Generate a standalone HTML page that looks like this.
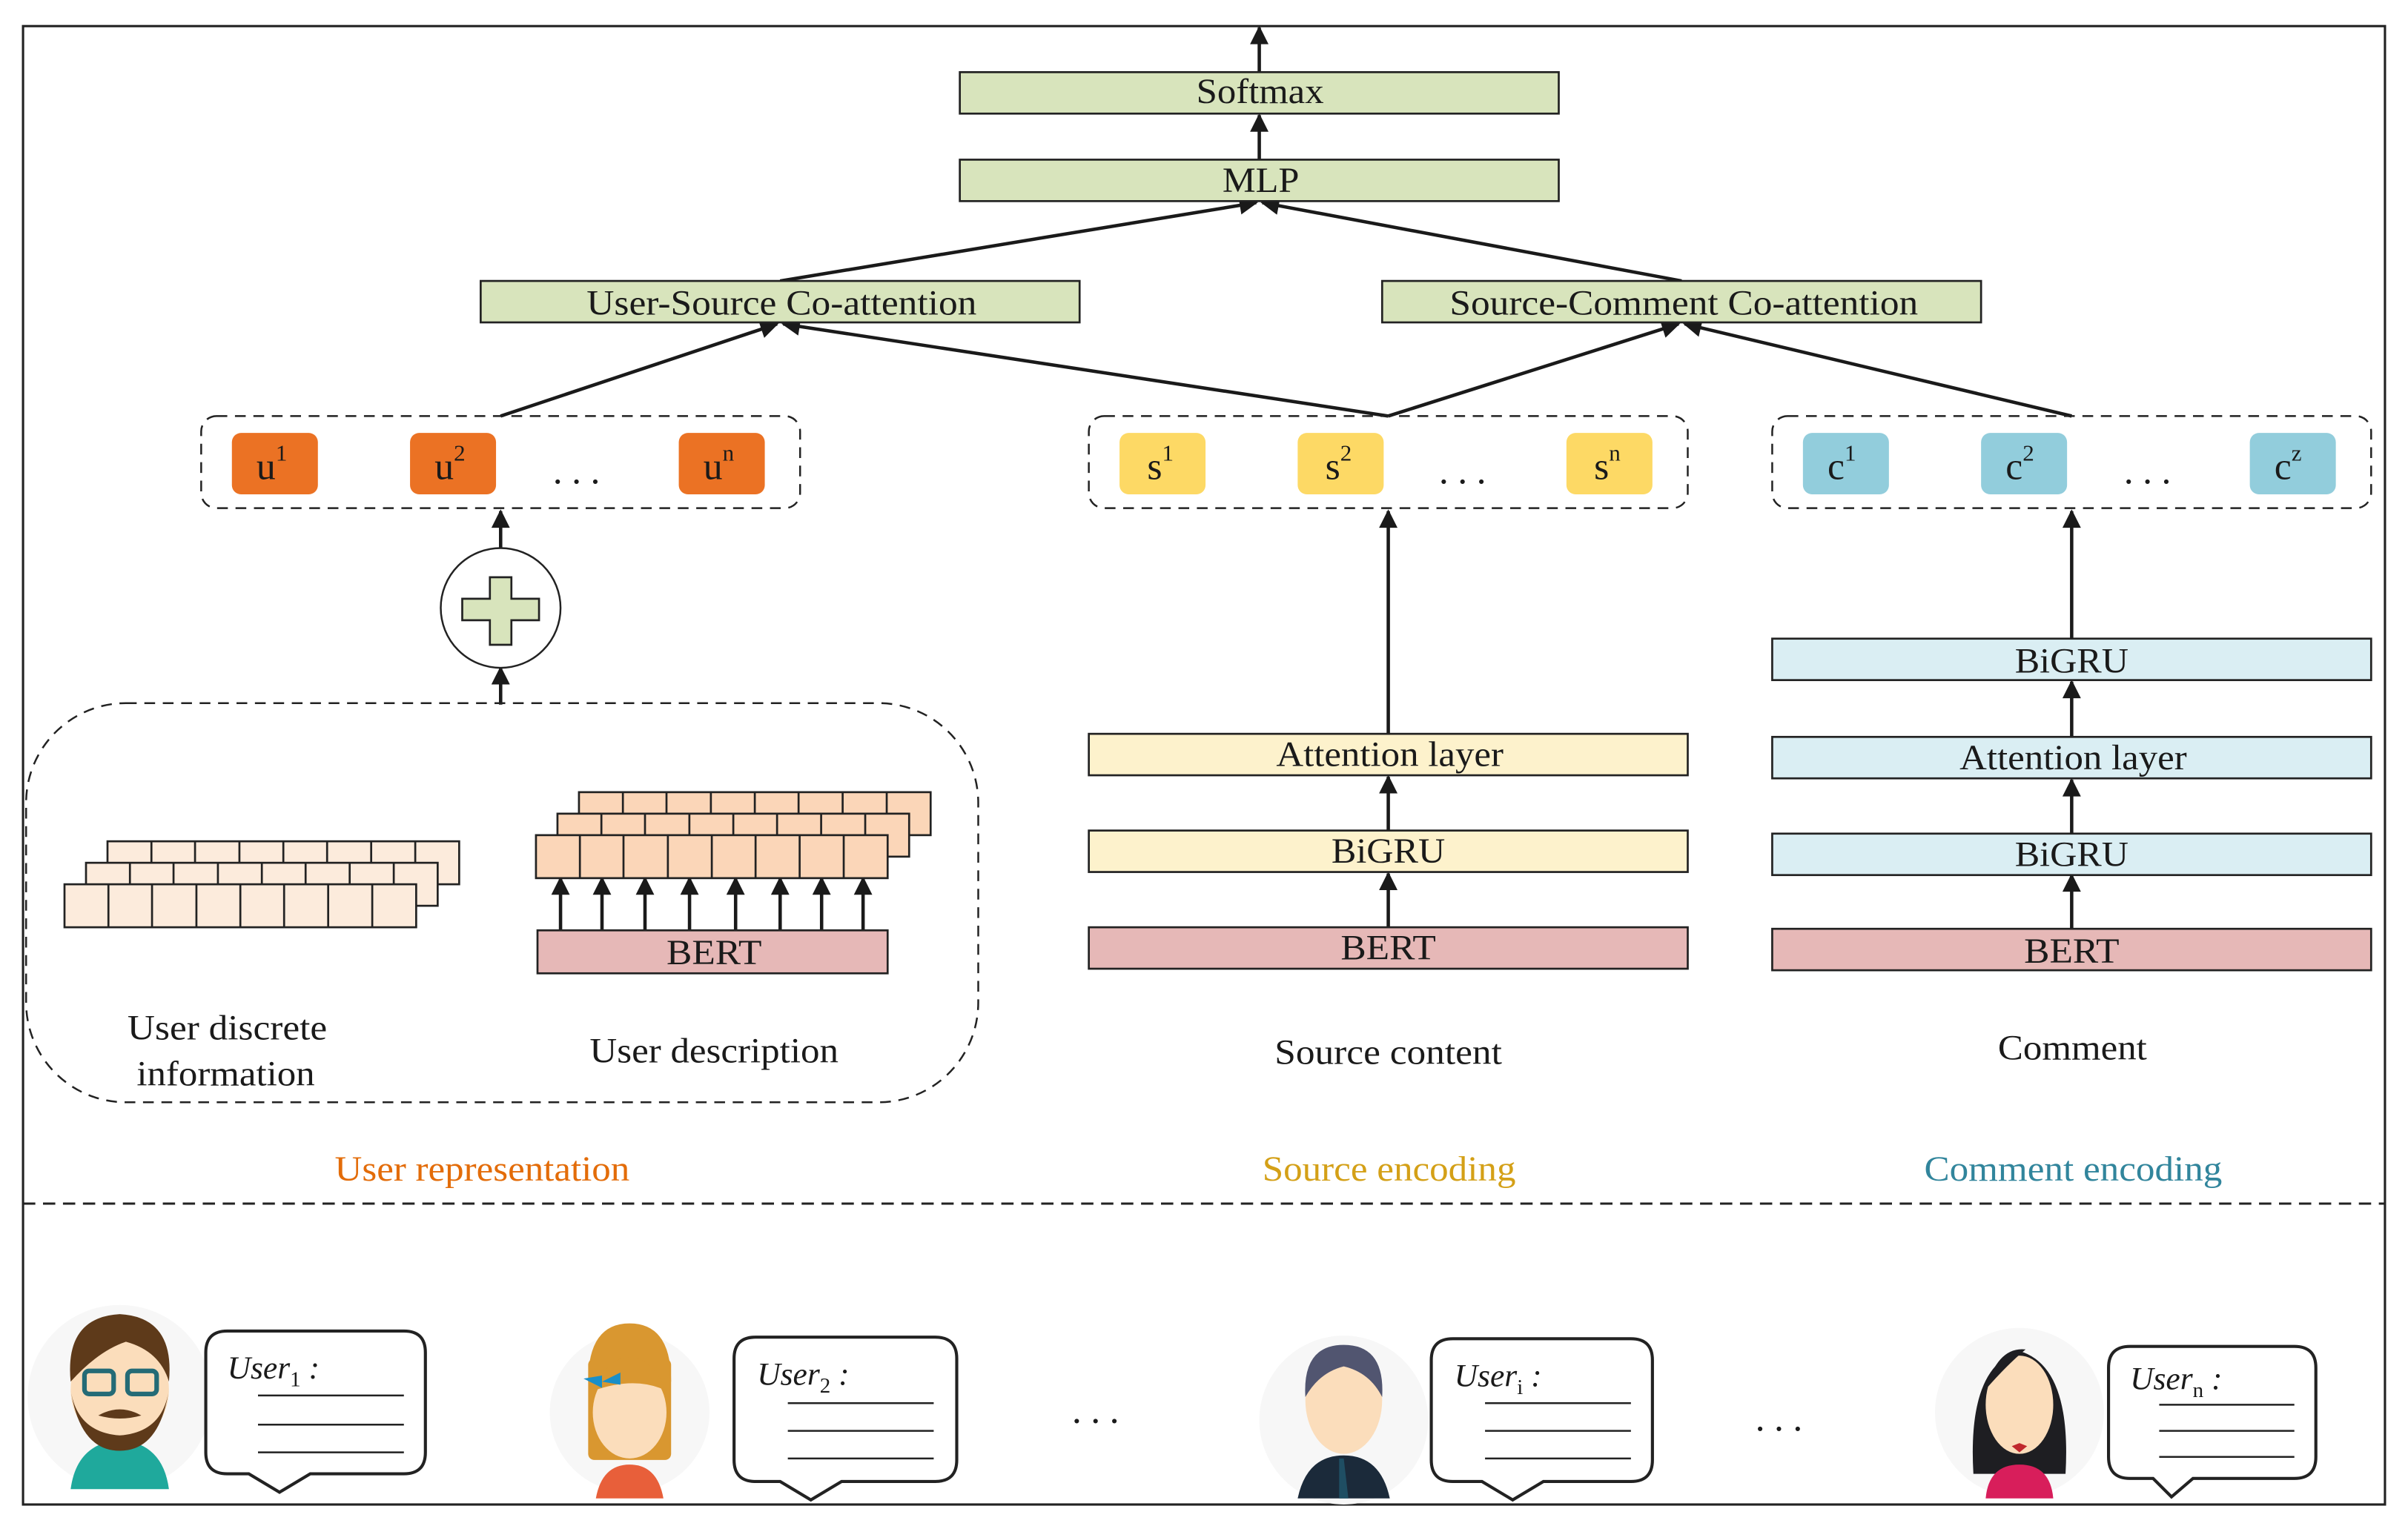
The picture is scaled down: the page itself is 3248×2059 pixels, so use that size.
<!DOCTYPE html>
<html><head><meta charset="utf-8"><style>
html,body{margin:0;padding:0;background:#fff;}
svg{display:block;}
text{font-family:"Liberation Serif",serif;fill:#1a1a1a;}
</style></head><body>
<svg width="3248" height="2059" viewBox="0 0 1568 994" preserveAspectRatio="none" xmlns="http://www.w3.org/2000/svg">
<defs>
<marker id="ah2" viewBox="0 0 10 10" refX="9" refY="5" markerWidth="16" markerHeight="12" orient="auto" markerUnits="userSpaceOnUse">
<path d="M0,0 L10,5 L0,10 z" fill="#1a1a1a"/></marker>
</defs>
<rect x="15" y="17" width="1538" height="963" fill="none" stroke="#222" stroke-width="1.5"/>
<line x1="15" y1="784" x2="1553" y2="784" stroke="#222" stroke-width="1.5" stroke-dasharray="8,5"/>

<g stroke="#1a1a1a" stroke-width="2.2" fill="none" marker-end="url(#ah2)">
<line x1="820" y1="47" x2="820" y2="18"/>
<line x1="820" y1="104" x2="820" y2="75"/>
<line x1="508" y1="183" x2="818" y2="132"/>
<line x1="1095" y1="183" x2="822" y2="132"/>
<line x1="326" y1="271" x2="506" y2="211"/>
<line x1="904" y1="271" x2="510" y2="211"/>
<line x1="904" y1="271" x2="1093" y2="211"/>
<line x1="1349" y1="271" x2="1097" y2="211"/>
<line x1="326" y1="357" x2="326" y2="333"/>
<line x1="326" y1="459" x2="326" y2="435"/>
<line x1="904" y1="478" x2="904" y2="333"/>
<line x1="904" y1="541" x2="904" y2="506"/>
<line x1="904" y1="604" x2="904" y2="569"/>
<line x1="1349" y1="416" x2="1349" y2="333"/>
<line x1="1349" y1="480" x2="1349" y2="444"/>
<line x1="1349" y1="543" x2="1349" y2="508"/>
<line x1="1349" y1="605" x2="1349" y2="570"/>
<line x1="365" y1="606" x2="365" y2="572"/>
<line x1="392" y1="606" x2="392" y2="572"/>
<line x1="420" y1="606" x2="420" y2="572"/>
<line x1="449" y1="606" x2="449" y2="572"/>
<line x1="479" y1="606" x2="479" y2="572"/>
<line x1="508" y1="606" x2="508" y2="572"/>
<line x1="535" y1="606" x2="535" y2="572"/>
<line x1="562" y1="606" x2="562" y2="572"/>
</g>

<g stroke="#222" stroke-width="1.3">
<rect x="625" y="47" width="390" height="27" fill="#D8E4BC"/>
<rect x="625" y="104" width="390" height="27" fill="#D8E4BC"/>
<rect x="313" y="183" width="390" height="27" fill="#D8E4BC"/>
<rect x="900" y="183" width="390" height="27" fill="#D8E4BC"/>
<rect x="709" y="478" width="390" height="27" fill="#FDF2CC"/>
<rect x="709" y="541" width="390" height="27" fill="#FDF2CC"/>
<rect x="709" y="604" width="390" height="27" fill="#E6B8B7"/>
<rect x="1154" y="416" width="390" height="27" fill="#DAEEF3"/>
<rect x="1154" y="480" width="390" height="27" fill="#DAEEF3"/>
<rect x="1154" y="543" width="390" height="27" fill="#DAEEF3"/>
<rect x="1154" y="605" width="390" height="27" fill="#E6B8B7"/>
<rect x="350" y="606" width="228" height="28" fill="#E6B8B7"/>
</g>
<g font-size="23" lengthAdjust="spacingAndGlyphs">
<text x="779" y="67" textLength="83" lengthAdjust="spacingAndGlyphs">Softmax</text>
<text x="796" y="125" textLength="50" lengthAdjust="spacingAndGlyphs">MLP</text>
<text x="382" y="205" textLength="254" lengthAdjust="spacingAndGlyphs">User-Source Co-attention</text>
<text x="944" y="205" textLength="305" lengthAdjust="spacingAndGlyphs">Source-Comment Co-attention</text>
<text x="831" y="499" textLength="148" lengthAdjust="spacingAndGlyphs">Attention layer</text>
<text x="867" y="562" textLength="74" lengthAdjust="spacingAndGlyphs">BiGRU</text>
<text x="873" y="625" textLength="62" lengthAdjust="spacingAndGlyphs">BERT</text>
<text x="1312" y="438" textLength="74" lengthAdjust="spacingAndGlyphs">BiGRU</text>
<text x="1276" y="501" textLength="148" lengthAdjust="spacingAndGlyphs">Attention layer</text>
<text x="1312" y="564" textLength="74" lengthAdjust="spacingAndGlyphs">BiGRU</text>
<text x="1318" y="627" textLength="62" lengthAdjust="spacingAndGlyphs">BERT</text>
<text x="434" y="628" textLength="62" lengthAdjust="spacingAndGlyphs">BERT</text>
<text x="83" y="677" textLength="130" lengthAdjust="spacingAndGlyphs">User discrete</text>
<text x="89" y="707" textLength="116" lengthAdjust="spacingAndGlyphs">information</text>
<text x="384" y="692" textLength="162" lengthAdjust="spacingAndGlyphs">User description</text>
<text x="830" y="693" textLength="148" lengthAdjust="spacingAndGlyphs">Source content</text>
<text x="1301" y="690" textLength="97" lengthAdjust="spacingAndGlyphs">Comment</text>
<text x="218" y="769" textLength="192" lengthAdjust="spacingAndGlyphs" style="fill:#E36C09">User representation</text>
<text x="822" y="769" textLength="165" lengthAdjust="spacingAndGlyphs" style="fill:#D4A017">Source encoding</text>
<text x="1253" y="769" textLength="194" lengthAdjust="spacingAndGlyphs" style="fill:#31859C">Comment encoding</text>
</g>

<g fill="none" stroke="#222" stroke-width="1.2" stroke-dasharray="7,5">
<rect x="131" y="271" width="390" height="60" rx="10"/>
<rect x="709" y="271" width="390" height="60" rx="10"/>
<rect x="1154" y="271" width="390" height="60" rx="10"/>
<rect x="17" y="458" width="620" height="260" rx="65"/>
</g>

<g>
<rect x="151" y="282" width="56" height="40" rx="6" fill="#EB7224"/>
<rect x="267" y="282" width="56" height="40" rx="6" fill="#EB7224"/>
<rect x="442" y="282" width="56" height="40" rx="6" fill="#EB7224"/>
<rect x="729" y="282" width="56" height="40" rx="6" fill="#FDD965"/>
<rect x="845" y="282" width="56" height="40" rx="6" fill="#FDD965"/>
<rect x="1020" y="282" width="56" height="40" rx="6" fill="#FDD965"/>
<rect x="1174" y="282" width="56" height="40" rx="6" fill="#92CDDC"/>
<rect x="1290" y="282" width="56" height="40" rx="6" fill="#92CDDC"/>
<rect x="1465" y="282" width="56" height="40" rx="6" fill="#92CDDC"/>
</g>
<g font-size="25">
<text x="167" y="312">u<tspan font-size="15" dy="-12">1</tspan></text>
<text x="283" y="312">u<tspan font-size="15" dy="-12">2</tspan></text>
<text x="458" y="312">u<tspan font-size="15" dy="-12">n</tspan></text>
<text x="747" y="312">s<tspan font-size="15" dy="-12">1</tspan></text>
<text x="863" y="312">s<tspan font-size="15" dy="-12">2</tspan></text>
<text x="1038" y="312">s<tspan font-size="15" dy="-12">n</tspan></text>
<text x="1190" y="312">c<tspan font-size="15" dy="-12">1</tspan></text>
<text x="1306" y="312">c<tspan font-size="15" dy="-12">2</tspan></text>
<text x="1481" y="312">c<tspan font-size="15" dy="-12">z</tspan></text>
<text x="360" y="315" letter-spacing="6">...</text>
<text x="937" y="315" letter-spacing="6">...</text>
<text x="1383" y="315" letter-spacing="6">...</text>
<text x="698" y="927" letter-spacing="6">...</text>
<text x="1143" y="932" letter-spacing="6">...</text>
</g>

<ellipse cx="326" cy="396" rx="39" ry="39" fill="#fff" stroke="#222" stroke-width="1.2"/>
<path d="M319,376 h14 v14 h18 v14 h-18 v16 h-14 v-16 h-18 v-14 h18 z" fill="#D8E4BC" stroke="#222" stroke-width="1.3"/>

<g fill="#FCEBDC" stroke="#222" stroke-width="1.3">
<rect x="70" y="548" width="229" height="28"/>
<rect x="56" y="562" width="229" height="28"/>
<rect x="42" y="576" width="229" height="28"/>
</g>
<g stroke="#222" stroke-width="1.3">
<path d="M98.6,548v14 M127,548v14 M155.9,548v14 M184.5,548v14 M213,548v14 M241.7,548v14 M270.4,548v14"/>
<path d="M84.6,562v14 M113,562v14 M141.9,562v14 M170.5,562v14 M199,562v14 M227.7,562v14 M256.4,562v14"/>
<path d="M70.6,576v28 M99,576v28 M127.9,576v28 M156.5,576v28 M185,576v28 M213.7,576v28 M242.4,576v28"/>
</g>
<g fill="#FBD6B8" stroke="#222" stroke-width="1.3">
<rect x="377" y="516" width="229" height="28"/>
<rect x="363" y="530" width="229" height="28"/>
<rect x="349" y="544" width="229" height="28"/>
</g>
<g stroke="#222" stroke-width="1.3">
<path d="M405.6,516v14 M434,516v14 M462.9,516v14 M491.5,516v14 M520,516v14 M548.7,516v14 M577.4,516v14"/>
<path d="M391.6,530v14 M420,530v14 M448.9,530v14 M477.5,530v14 M506,530v14 M534.7,530v14 M563.4,530v14"/>
<path d="M377.6,544v28 M406,544v28 M434.9,544v28 M463.5,544v28 M492,544v28 M520.7,544v28 M549.4,544v28"/>
</g>

<g>
<circle cx="78" cy="910" r="60" fill="#f7f7f7"/>
<path d="M46,970 q4,-30 32,-32 q28,2 32,32 z" fill="#1FA99C"/>
<ellipse cx="78" cy="905" rx="32" ry="36" fill="#FBDDBB"/>
<path d="M46,900 q-4,-42 32,-44 q36,2 32,44 q-6,-20 -28,-26 q-18,6 -36,26 z" fill="#5E3A1A"/>
<path d="M46,905 q6,40 32,40 q26,0 32,-40 q-4,28 -32,30 q-28,-2 -32,-30 z" fill="#5E3A1A"/>
<rect x="55" y="893" width="19" height="15" rx="3" fill="none" stroke="#246B76" stroke-width="3"/>
<rect x="83" y="893" width="19" height="15" rx="3" fill="none" stroke="#246B76" stroke-width="3"/>
<path d="M64,922 q14,-8 28,0 q-14,4 -28,0z" fill="#5E3A1A"/>

<circle cx="410" cy="920" r="52" fill="#f7f7f7"/>
<path d="M388,976 q4,-22 22,-22 q18,0 22,22 z" fill="#E85F3A"/>
<rect x="383" y="885" width="54" height="66" fill="#D99730" rx="4"/>
<path d="M383,900 q0,-38 27,-38 q27,0 27,38 z" fill="#D99730"/>
<ellipse cx="410" cy="920" rx="24" ry="30" fill="#FBDDBB"/>
<path d="M386,906 q10,-22 24,-22 q14,0 24,22 q-20,-10 -48,0z" fill="#D99730"/>
<path d="M380,898 l12,6 l0,-8 z M392,900 l12,-6 l0,8z" fill="#1A8FC8"/>

<circle cx="875" cy="925" r="55" fill="#f7f7f7"/>
<path d="M845,976 q6,-28 30,-28 q24,0 30,28 z" fill="#1B2A3A"/>
<path d="M872,950 l3,0 l3,26 l-6,0z" fill="#1F4E63"/>
<ellipse cx="875" cy="912" rx="25" ry="35" fill="#FBDDBB"/>
<path d="M850,910 q-2,-34 25,-34 q27,0 25,34 q-8,-16 -25,-20 q-16,4 -25,20z" fill="#515570"/>

<circle cx="1315" cy="920" r="55" fill="#f7f7f7"/>
<path d="M1285,960 q-4,-70 30,-80 q34,10 30,80 z" fill="#1E1E22"/>
<path d="M1293,976 q2,-22 22,-22 q20,0 22,22 z" fill="#D81E5B"/>
<ellipse cx="1315" cy="915" rx="22" ry="32" fill="#FBDDBB"/>
<path d="M1293,905 q8,-28 26,-26 q-12,10 -26,26z" fill="#1E1E22"/>
<path d="M1310,942 l5,-2 l5,2 l-5,4z" fill="#C0282D"/>
</g>

<g fill="#fff" stroke="#222" stroke-width="2">
<path d="M148,867 H263 q14,0 14,14 V946 q0,14 -14,14 H202 l-20,12 l-20,-12 H148 q-14,0 -14,-14 V881 q0,-14 14,-14z"/>
<path d="M492,871 H609 q14,0 14,14 V951 q0,14 -14,14 H548 l-20,12 l-20,-12 H492 q-14,0 -14,-14 V885 q0,-14 14,-14z"/>
<path d="M946,872 H1062 q14,0 14,14 V951 q0,14 -14,14 H1005 l-20,12 l-20,-12 H946 q-14,0 -14,-14 V886 q0,-14 14,-14z"/>
<path d="M1387,877 H1494 q14,0 14,14 V949 q0,14 -14,14 H1428 l-14,12 l-12,-12 H1387 q-14,0 -14,-14 V891 q0,-14 14,-14z"/>
</g>
<g stroke="#222" stroke-width="1.2">
<path d="M168,909h95 M168,928h95 M168,946h95"/>
<path d="M513,914h95 M513,932h95 M513,950h95"/>
<path d="M967,914h95 M967,932h95 M967,950h95"/>
<path d="M1406,915h88 M1406,932h88 M1406,949h88"/>
</g>
<g font-size="21" font-style="italic">
<text x="148" y="898">User<tspan font-style="normal" font-size="14" dy="5">1</tspan><tspan dy="-5"> :</tspan></text>
<text x="493" y="902">User<tspan font-style="normal" font-size="14" dy="5">2</tspan><tspan dy="-5"> :</tspan></text>
<text x="947" y="903">User<tspan font-style="normal" font-size="14" dy="5">i</tspan><tspan dy="-5"> :</tspan></text>
<text x="1387" y="905">User<tspan font-style="normal" font-size="14" dy="5">n</tspan><tspan dy="-5"> :</tspan></text>
</g>
</svg>
</body></html>
